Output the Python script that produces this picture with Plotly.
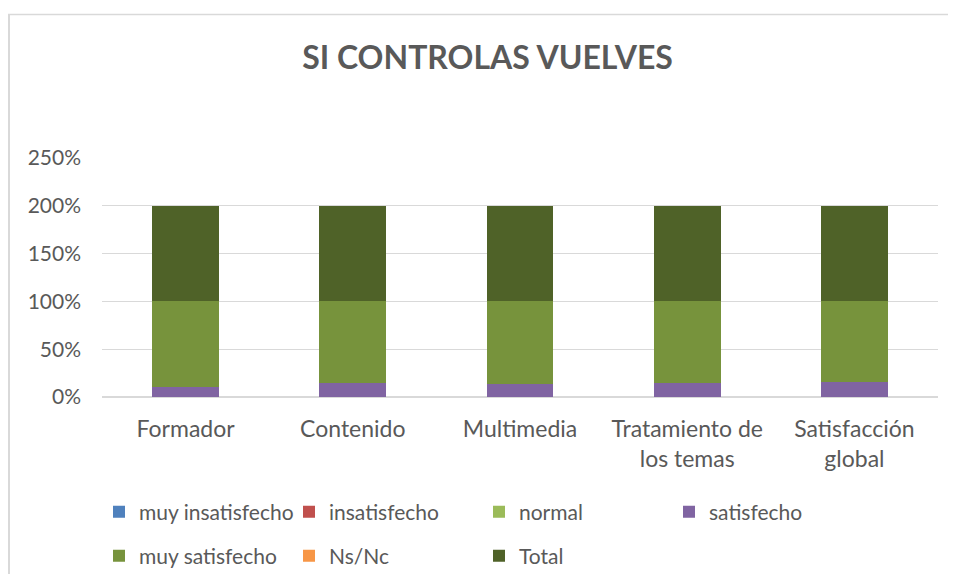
import plotly.graph_objects as go

categories = ["Formador", "Contenido", "Multimedia", "Tratamiento de<br>los temas", "Satisfacción<br>global"]
muy_insatisfecho = [0, 0, 0, 0, 0]
insatisfecho = [0, 0, 0, 0, 0]
normal = [0, 0, 0, 0, 0]
satisfecho = [0.10, 0.15, 0.14, 0.15, 0.16]
muy_satisfecho = [0.90, 0.85, 0.86, 0.85, 0.84]
ns_nc = [0, 0, 0, 0, 0]
total = [1.0, 1.0, 1.0, 1.0, 1.0]

series = [
    ("muy insatisfecho", muy_insatisfecho, "#4F81BD", "legend"),
    ("insatisfecho", insatisfecho, "#C0504D", "legend"),
    ("normal", normal, "#9BBB59", "legend"),
    ("satisfecho", satisfecho, "#8064A2", "legend"),
    ("muy satisfecho", muy_satisfecho, "#77933C", "legend2"),
    ("Ns/Nc", ns_nc, "#F79646", "legend2"),
    ("Total", total, "#4F6228", "legend2"),
]

FONT = "Lato, Carlito, Calibri, sans-serif"
GREY = "#595959"

fig = go.Figure()
for name, vals, color, leg in series:
    fig.add_trace(go.Bar(
        x=categories, y=vals, name=name, legend=leg,
        marker=dict(color=color, line=dict(width=0)),
    ))

# page body has an 8px margin on every side; work in screen coordinates
OFF = 8
W, H = 956 - 2 * OFF, 582 - 2 * OFF
PL, PR, PT, PB = 102, 938, 158, 397   # plot area in screen coords
L, R, T, B = PL - OFF, W - (PR - OFF), PT - OFF, H - (PB - OFF)
pw, ph = W - L - R, H - T - B

def px(xs):
    return (xs - PL) / pw

def py(ys):
    return (PB - ys) / ph

leg_common = dict(
    orientation="h", entrywidth=145, entrywidthmode="pixels",
    font=dict(family=FONT, size=21, color=GREY),
    bgcolor="rgba(0,0,0,0)", itemclick=False, itemdoubleclick=False,
    xanchor="left", yanchor="middle", traceorder="normal",
)

fig.update_layout(
    width=W, height=H,
    margin=dict(l=L, r=R, t=T, b=B, autoexpand=False),
    paper_bgcolor="white", plot_bgcolor="white",
    barmode="stack", bargap=0.6,
    font=dict(family=FONT, color=GREY),
    title=dict(
        text="<b>SI CONTROLAS VUELVES</b>",
        x=(487.5 - OFF) / W, xref="container", xanchor="center",
        y=1 - (58 - OFF) / H, yref="container", yanchor="middle",
        font=dict(family=FONT, size=32, color=GREY),
    ),
    xaxis=dict(
        showgrid=False, showline=False, zeroline=False,
        tickfont=dict(family=FONT, size=23, color=GREY),
        ticks="", ticklabelstandoff=16,
    ),
    yaxis=dict(
        range=[0, 2.5], dtick=0.5, tickformat=".0%",
        showgrid=True, gridcolor="#D9D9D9", gridwidth=1,
        zeroline=True, zerolinecolor="#D9D9D9", zerolinewidth=1.5,
        showline=False, ticks="", ticklabelstandoff=20,
        tickfont=dict(family=FONT, size=21, color=GREY),
    ),
    legend=dict(x=px(99), y=py(512), **leg_common),
    legend2=dict(x=px(99), y=py(556), **leg_common),
    showlegend=True,
    shapes=[
        dict(type="line", xref="paper", yref="paper",
             x0=px(8), x1=px(970), y0=py(14.5), y1=py(14.5),
             line=dict(color="#D9D9D9", width=1.5)),
        dict(type="line", xref="paper", yref="paper",
             x0=px(9), x1=px(9), y0=py(14), y1=py(600),
             line=dict(color="#D9D9D9", width=2)),
    ],
)

fig.write_html("out.html")
